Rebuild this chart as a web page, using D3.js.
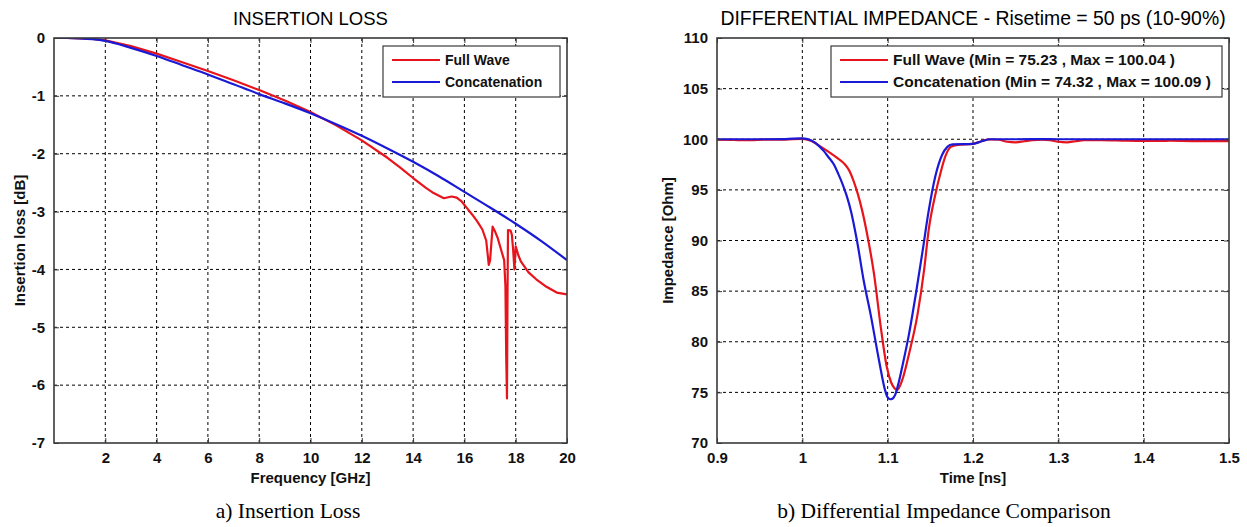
<!DOCTYPE html>
<html><head><meta charset="utf-8">
<script src="https://cdn.jsdelivr.net/npm/d3@7"></script>
<style>body{margin:0;background:#fff}</style>
</head><body>
<svg id="c" width="1247" height="527"></svg>
<script>
// ---------- Data: Insertion loss ----------
const ilFullWaveFreq = [0,0.5,1,1.5,2,3,4,5,6,7,8,9,10,11,12,13,13.5,14,14.5,14.8,15.2,15.5,15.7,15.9,16.1,16.3,16.5,16.7,16.85,16.95,17.0,17.1,17.2,17.3,17.45,17.55,17.6,17.63,17.66,17.68,17.7,17.8,17.85,17.9,17.95,18.0,18.1,18.2,18.5,18.8,19.2,19.6,20];
const ilFullWave     = [0,0,-0.005,-0.015,-0.04,-0.14,-0.27,-0.42,-0.57,-0.73,-0.9,-1.08,-1.28,-1.51,-1.77,-2.07,-2.24,-2.42,-2.59,-2.68,-2.77,-2.74,-2.76,-2.83,-2.94,-3.05,-3.17,-3.31,-3.5,-3.92,-3.85,-3.26,-3.35,-3.46,-3.69,-3.84,-4.3,-5.5,-6.23,-4.5,-3.32,-3.33,-3.4,-3.66,-4.0,-3.6,-3.75,-3.86,-4.05,-4.17,-4.3,-4.4,-4.43];
const ilConcatFreq = [0,0.5,1,1.5,2,3,4,5,6,7,8,9,10,11,12,13,14,15,16,17,18,19,20];
const ilConcat     = [0,0,-0.005,-0.02,-0.05,-0.17,-0.31,-0.47,-0.63,-0.8,-0.97,-1.13,-1.3,-1.49,-1.69,-1.91,-2.14,-2.39,-2.66,-2.93,-3.21,-3.51,-3.84];
const ilXTicks = [2,4,6,8,10,12,14,16,18,20];
const ilYTicks = [0,-1,-2,-3,-4,-5,-6,-7];
const ilLegend = ["Full Wave","Concatenation"];

// ---------- Data: Differential impedance ----------
const zFullWaveTime = [0.9,0.92,0.93,0.94,0.96,0.98,1.0,1.01,1.02,1.03,1.04,1.05,1.055,1.06,1.065,1.07,1.076,1.084,1.092,1.099,1.104,1.108,1.111,1.117,1.125,1.135,1.143,1.148,1.156,1.162,1.168,1.174,1.182,1.2,1.21,1.22,1.23,1.24,1.25,1.26,1.27,1.28,1.29,1.3,1.31,1.32,1.33,1.35,1.38,1.4,1.43,1.46,1.5];
const zFullWave     = [99.95,99.93,99.9,99.92,99.97,99.97,100.04,99.85,99.35,98.8,98.2,97.5,96.9,95.9,94.6,93.0,90.6,86.7,81.4,77.5,76.0,75.4,75.23,76.2,78.8,82.7,87.3,91.0,94.6,96.7,98.4,99.25,99.45,99.55,99.8,99.98,99.95,99.75,99.7,99.8,99.9,99.95,99.9,99.75,99.7,99.8,99.9,99.92,99.85,99.83,99.85,99.82,99.82];
const zConcatTime = [0.9,0.95,0.98,1.0,1.01,1.02,1.025,1.03,1.037,1.042,1.047,1.052,1.057,1.064,1.072,1.08,1.09,1.097,1.1,1.103,1.106,1.109,1.113,1.117,1.125,1.133,1.141,1.148,1.156,1.164,1.17,1.176,1.2,1.21,1.22,1.25,1.28,1.3,1.35,1.4,1.45,1.5];
const zConcat     = [100,100,100.02,100.09,99.9,99.3,98.85,98.3,97.5,96.6,95.6,94.4,92.9,90.0,86.0,82.7,78.1,75.2,74.5,74.32,74.4,74.8,76.0,77.5,80.75,84.7,89.0,92.9,96.4,98.5,99.25,99.5,99.55,99.8,100.0,100.0,100.02,100.0,100.0,100.0,100.0,100.0];
const zXTicks = [0.9,1.0,1.1,1.2,1.3,1.4,1.5];
const zYTicks = [70,75,80,85,90,95,100,105,110];
const zLegend = ["Full Wave (Min = 75.23 , Max = 100.04 )","Concatenation (Min = 74.32 , Max = 100.09 )"];

const RED = "#e8141c", BLUE = "#1a1ad6", AXIS = "#3a3a3a";
const svg = d3.select("#c");
const FONT = "'Liberation Sans', Arial, Helvetica, sans-serif";

function panel(opt){
  const {x0,x1,y0,y1,xDom,yDom,xTicks,yTicks,xFmt,yFmt,series,title,titleSize,xLabel,yLabel,caption,captionX,legend,legendLeft,legendSize,yLabelX} = opt;
  const g = svg.append("g");
  const x = d3.scaleLinear().domain(xDom).range([x0,x1]);
  const y = d3.scaleLinear().domain(yDom).range([y1,y0]);
  // grid
  const gridX = xTicks.filter(t => x(t) > x0+1 && x(t) < x1-1);
  const gridY = yTicks.filter(t => y(t) > y0+1 && y(t) < y1-1);
  g.append("g").selectAll("line").data(gridX).join("line")
    .attr("x1",d=>x(d)).attr("x2",d=>x(d)).attr("y1",y0).attr("y2",y1)
    .attr("stroke","#000").attr("stroke-width",1).attr("stroke-dasharray","3,3");
  g.append("g").selectAll("line").data(gridY).join("line")
    .attr("x1",x0).attr("x2",x1).attr("y1",d=>y(d)).attr("y2",d=>y(d))
    .attr("stroke","#000").attr("stroke-width",1).attr("stroke-dasharray","3,3");
  // series
  const clipId = "clip"+Math.round(x0);
  svg.append("clipPath").attr("id",clipId).append("rect").attr("x",x0).attr("y",y0).attr("width",x1-x0).attr("height",y1-y0);
  series.forEach(s=>{
    const pts = s.xs.map((v,i)=>[v,s.ys[i]]);
    g.append("path").attr("clip-path",`url(#${clipId})`)
      .attr("d", d3.line().x(d=>x(d[0])).y(d=>y(d[1])).curve(s.curve||d3.curveLinear)(pts))
      .attr("fill","none").attr("stroke",s.color).attr("stroke-width",2.2).attr("stroke-linejoin","round");
  });
  // axes with inward ticks (MATLAB box)
  const ax = g.append("g");
  const xb = ax.append("g").attr("transform",`translate(0,${y1})`)
    .call(d3.axisBottom(x).tickValues(xTicks).tickFormat(xFmt).tickSizeInner(-5).tickSizeOuter(0).tickPadding(9));
  const xt = ax.append("g").attr("transform",`translate(0,${y0})`)
    .call(d3.axisTop(x).tickValues(xTicks).tickFormat("").tickSizeInner(-5).tickSizeOuter(0));
  const yl = ax.append("g").attr("transform",`translate(${x0},0)`)
    .call(d3.axisLeft(y).tickValues(yTicks).tickFormat(yFmt).tickSizeInner(-5).tickSizeOuter(0).tickPadding(9));
  const yr = ax.append("g").attr("transform",`translate(${x1},0)`)
    .call(d3.axisRight(y).tickValues(yTicks).tickFormat("").tickSizeInner(-5).tickSizeOuter(0));
  [xb,xt,yl,yr].forEach(a=>{
    a.select(".domain").remove();
    a.selectAll("line").attr("stroke",AXIS).attr("stroke-width",1);
    a.selectAll("text").attr("font-family",FONT).attr("font-weight","bold").attr("font-size",15).attr("fill","#111");
  });
  ax.append("rect").attr("x",x0).attr("y",y0).attr("width",x1-x0).attr("height",y1-y0)
    .attr("fill","none").attr("stroke",AXIS).attr("stroke-width",1.6);
  // title & labels
  g.append("text").attr("x",(x0+x1)/2).attr("y",y0-13).attr("text-anchor","middle")
    .attr("font-family",FONT).attr("font-size",titleSize).attr("fill","#000").text(title);
  g.append("text").attr("x",(x0+x1)/2).attr("y",y1+40).attr("text-anchor","middle")
    .attr("font-family",FONT).attr("font-weight","bold").attr("font-size",15).attr("fill","#111").text(xLabel);
  g.append("text").attr("transform",`translate(${yLabelX},${(y0+y1)/2}) rotate(-90)`).attr("text-anchor","middle")
    .attr("dy","0.35em").attr("font-family",FONT).attr("font-weight","bold").attr("font-size",15).attr("fill","#111").text(yLabel);
  g.append("text").attr("x",captionX).attr("y",y1+75).attr("text-anchor","middle")
    .attr("font-family","'Liberation Serif','Times New Roman',serif").attr("font-size",21.5).attr("fill","#000").text(caption);
  // legend
  const lg = g.append("g");
  const boxR = x1-7, boxT = y0+8, rowH = 22;
  const texts = [];
  legend.forEach((t,i)=>{
    texts.push(lg.append("text").attr("y",boxT+14+i*rowH).attr("dy","0.35em")
      .attr("font-family",FONT).attr("font-weight","bold").attr("font-size",legendSize).attr("fill","#111").text(t));
  });
  const tw = d3.max(texts, t=>t.node().getComputedTextLength());
  const boxL = legendLeft;
  const textX = boxL + 62;
  texts.forEach(t=>t.attr("x",textX));
  const bR = Math.max(boxR, textX+tw+8);
  lg.insert("rect","text").attr("x",boxL).attr("y",boxT).attr("width",bR-boxL).attr("height",rowH*2+7)
    .attr("fill","#fff").attr("stroke",AXIS).attr("stroke-width",1.2);
  legend.forEach((t,i)=>{
    lg.append("line").attr("x1",boxL+9).attr("x2",boxL+57).attr("y1",boxT+14+i*rowH).attr("y2",boxT+14+i*rowH)
      .attr("stroke",series[i].color).attr("stroke-width",2.2);
  });
}

const intFmt = d => String(d);
panel({x0:54,x1:567,y0:38,y1:443,xDom:[0,20],yDom:[-7,0],xTicks:ilXTicks,yTicks:ilYTicks,
  xFmt:intFmt,yFmt:intFmt,
  series:[{xs:ilFullWaveFreq,ys:ilFullWave,color:RED},{xs:ilConcatFreq,ys:ilConcat,color:BLUE,curve:d3.curveMonotoneX}],
  title:"INSERTION LOSS",titleSize:18.5,xLabel:"Frequency [GHz]",yLabel:"Insertion loss [dB]",caption:"a) Insertion Loss",captionX:288,
  legend:ilLegend,legendLeft:383,legendSize:14,yLabelX:20});

panel({x0:717,x1:1229,y0:38,y1:443,xDom:[0.9,1.5],yDom:[70,110],xTicks:zXTicks,yTicks:zYTicks,
  xFmt:d=>String(+d.toFixed(1)),yFmt:intFmt,
  series:[{xs:zFullWaveTime,ys:zFullWave,color:RED,curve:d3.curveMonotoneX},{xs:zConcatTime,ys:zConcat,color:BLUE,curve:d3.curveMonotoneX}],
  title:"DIFFERENTIAL IMPEDANCE - Risetime = 50 ps (10-90%)",titleSize:19.4,xLabel:"Time [ns]",yLabel:"Impedance [Ohm]",caption:"b) Differential Impedance Comparison",captionX:944,
  legend:zLegend,legendLeft:831,legendSize:15.5,yLabelX:668});
</script>
</body></html>
